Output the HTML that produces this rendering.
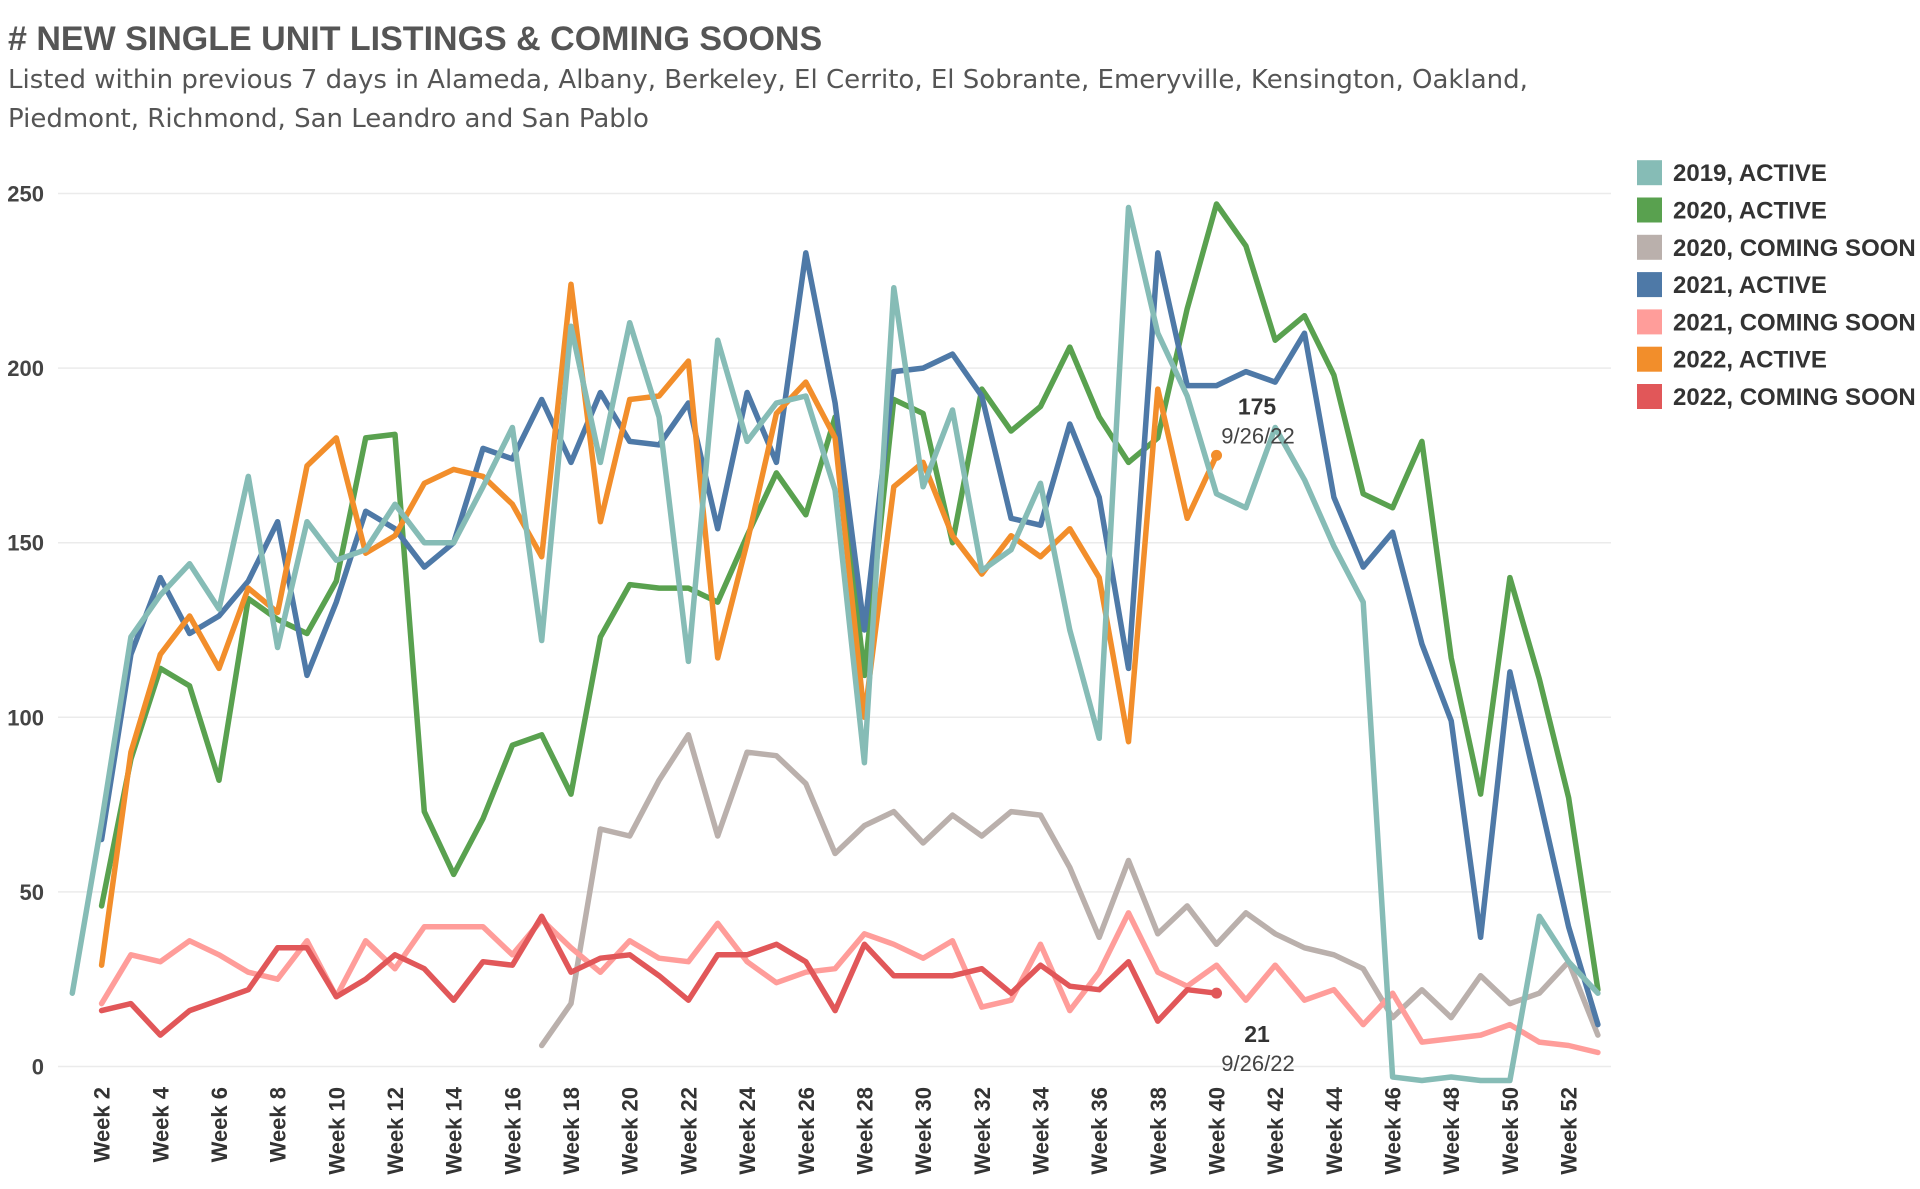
<!DOCTYPE html>
<html><head><meta charset="utf-8"><style>
html,body{margin:0;padding:0;background:#fff;width:1920px;height:1189px;overflow:hidden}
svg{display:block;font-family:"Liberation Sans",sans-serif}
</style></head><body>
<svg id="chart" width="1920" height="1189" viewBox="0 0 1920 1189">
<text x="8" y="50" font-size="34" font-weight="bold" fill="#555">#  NEW SINGLE UNIT LISTINGS &amp; COMING SOONS</text>
<text x="8" y="88" font-size="26" fill="#555" style="font-family:'DejaVu Sans',sans-serif">Listed within previous 7 days in Alameda, Albany, Berkeley, El Cerrito, El Sobrante, Emeryville, Kensington, Oakland,</text>
<text x="8" y="127" font-size="26" fill="#555" style="font-family:'DejaVu Sans',sans-serif">Piedmont, Richmond, San Leandro and San Pablo</text>
<g id="grid"></g><g id="yaxis"></g><g id="xaxis"></g><g id="lines"></g><g id="legend"></g><g id="ann"></g>
</svg>
<script>
const weeks=[];for(let w=1;w<=53;w++)weeks.push(w);
const yTicks=[0,50,100,150,200,250];
const s2019A=[21,70,123,135,144,131,169,120,156,145,148,161,150,150,166,183,122,212,173,213,186,116,208,179,190,192,165,87,223,166,188,142,148,167,125,94,246,210,192,164,160,183,168,149,133,-3,-4,-3,-4,-4,43,30,21];
const s2020A=[null,46,88,114,109,82,134,128,124,139,180,181,73,55,71,92,95,78,123,138,137,137,133,152,170,158,186,112,191,187,150,194,182,189,206,186,173,180,217,247,235,208,215,198,164,160,179,117,78,140,111,77,22];
const s2020C=[null,null,null,null,null,null,null,null,null,null,null,null,null,null,null,null,6,18,68,66,82,95,66,90,89,81,61,69,73,64,72,66,73,72,57,37,59,38,46,35,44,38,34,32,28,14,22,14,26,18,21,30,9];
const s2021A=[null,65,118,140,124,129,139,156,112,133,159,154,143,150,177,174,191,173,193,179,178,190,154,193,173,233,190,125,199,200,204,192,157,155,184,163,114,233,195,195,199,196,210,163,143,153,121,99,37,113,77,40,12];
const s2021C=[null,18,32,30,36,32,27,25,36,20,36,28,40,40,40,32,42,34,27,36,31,30,41,30,24,27,28,38,35,31,36,17,19,35,16,27,44,27,23,29,19,29,19,22,12,21,7,8,9,12,7,6,4];
const s2022A=[null,29,90,118,129,114,137,130,172,180,147,152,167,171,169,161,146,224,156,191,192,202,117,150,187,196,180,100,166,173,152,141,152,146,154,140,93,194,157,175];
const s2022C=[null,16,18,9,16,19,22,34,34,20,25,32,28,19,30,29,43,27,31,32,26,19,32,32,35,30,16,35,26,26,26,28,21,29,23,22,30,13,22,21];
const seriesNames=["2019, ACTIVE","2020, ACTIVE","2020, COMING SOON","2021, ACTIVE","2021, COMING SOON","2022, ACTIVE","2022, COMING SOON"];
const seriesColors=["#86bcb6","#59a14f","#bab0ac","#4e79a7","#ff9d9a","#f28e2b","#e15759"];
const seriesData=[s2019A,s2020A,s2020C,s2021A,s2021C,s2022A,s2022C];
const drawOrder=[2,4,6,1,3,5,0];
const NS="http://www.w3.org/2000/svg";
const x=w=>101.6+(w-2)*29.34;
const y=v=>1066.5-v*3.492;
function mk(tag,parent,attrs){const e=document.createElementNS(NS,tag);for(const k in attrs)e.setAttribute(k,attrs[k]);document.getElementById(parent).appendChild(e);return e;}
yTicks.forEach(t=>{
  const g=mk('line','grid',{x1:58,x2:1611,y1:y(t),y2:y(t),stroke:'#ebebeb','stroke-width':1.5});
  
  
  const l=mk('text','yaxis',{x:44,y:y(t)+8,'text-anchor':'end','font-size':22,'font-weight':'bold',fill:'#444'});
  l.textContent=t;
  
  
});
weeks.filter(w=>w%2===0).forEach(w=>{
  const t=mk('text','xaxis',{transform:`translate(${x(w)+8},1087) rotate(-90)`,'text-anchor':'end','font-size':22,'font-weight':'bold',fill:'#333'});
  t.textContent='Week '+w;
  
  
});
drawOrder.forEach(i=>{
  const d=seriesData[i];let p='';
  d.forEach((v,k)=>{if(v===null)return;p+=(p?'L':'M')+x(weeks[k]).toFixed(1)+','+y(v).toFixed(1);});
  const e=mk('path','lines',{d:p,fill:'none',stroke:seriesColors[i],'stroke-width':5.5,'stroke-linejoin':'round','stroke-linecap':'round'});
  
  
});
seriesNames.forEach((n,i)=>{
  const cy=172.7+i*37.3;
  const r=mk('rect','legend',{x:1637,y:cy-12.5,width:25,height:25,fill:seriesColors[i]});
  
  
  const t=mk('text','legend',{x:1673,y:cy+8.5,'font-size':24,'font-weight':'bold',fill:'#333'});
  t.textContent=n;
  
  
});
const lastA=s2022A.length-1, lastC=s2022C.length-1;
const dotA=mk('circle','ann',{cx:x(weeks[lastA]),cy:y(s2022A[lastA]),r:5.5,fill:seriesColors[5]});


const dotC=mk('circle','ann',{cx:x(weeks[lastC]),cy:y(s2022C[lastC]),r:5.5,fill:seriesColors[6]});


[[s2022A[lastA],y(s2022A[lastA])-41,'annotation-2022-active'],[s2022C[lastC],y(s2022C[lastC])+49,'annotation-2022-coming-soon']].forEach(([v,yy,nm])=>{
  const a=mk('text','ann',{x:1257,y:yy,'text-anchor':'middle','font-size':23,'font-weight':'bold',fill:'#333'});
  a.textContent=v;
  
  
  const b=mk('text','ann',{x:1258,y:yy+29,'text-anchor':'middle','font-size':22,fill:'#444'});
  b.textContent='9/26/22';
  
  
});
</script>
</body></html>
